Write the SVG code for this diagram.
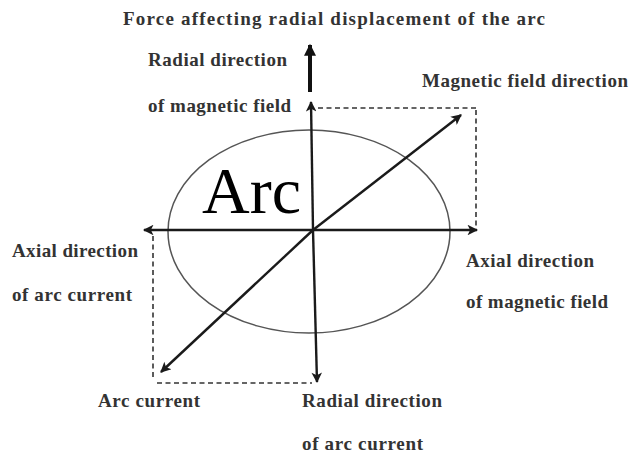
<svg xmlns="http://www.w3.org/2000/svg" width="630" height="459" viewBox="0 0 630 459">
<style>
text{font-family:"Liberation Serif","Times New Roman",serif;fill:#333}
.lb{font-size:19px;font-weight:bold}
.ln{stroke:#1a1a1a;stroke-width:2.4;fill:none}
.ds{stroke:#333;stroke-width:1.6;stroke-dasharray:5 3.5;fill:none}
</style>
<defs>
<marker id="ah" viewBox="0 0 10 10" refX="9" refY="5" markerWidth="5" markerHeight="4.4" orient="auto" markerUnits="strokeWidth">
<path d="M0,0 L10,5 L0,10 L2.5,5 Z" fill="#1a1a1a"/>
</marker>
<marker id="ahb" viewBox="0 0 10 10" refX="9" refY="5" markerWidth="3.4" markerHeight="3" orient="auto" markerUnits="strokeWidth">
<path d="M0,0 L10,5 L0,10 Z" fill="#111"/>
</marker>
</defs>
<rect width="630" height="459" fill="#fff"/>
<g id="arc">
<ellipse cx="309" cy="231.5" rx="141" ry="101.5" fill="none" stroke="#555" stroke-width="1.5"/>
<text x="202" y="213" font-size="66" style="fill:#000">Arc</text>
</g>
<g id="connectors">
<line class="ds" x1="318" y1="108" x2="476" y2="108"/>
<line class="ds" x1="476" y1="110" x2="476" y2="226"/>
<line class="ds" x1="153" y1="236" x2="153" y2="377"/>
<line class="ds" x1="157" y1="383" x2="312" y2="383"/>
<line class="ln" x1="313" y1="230" x2="311" y2="102" marker-end="url(#ah)"/>
<line class="ln" x1="313" y1="230" x2="317" y2="382" marker-end="url(#ah)"/>
<line class="ln" x1="313" y1="230" x2="477" y2="230" marker-end="url(#ah)"/>
<line class="ln" x1="313" y1="230" x2="144" y2="230" marker-end="url(#ah)"/>
<line class="ln" x1="313" y1="230" x2="461" y2="115" marker-end="url(#ah)"/>
<line class="ln" x1="313" y1="230" x2="161" y2="372" marker-end="url(#ah)"/>
<line x1="310" y1="92" x2="310" y2="45" stroke="#111" stroke-width="4" marker-end="url(#ahb)"/>
</g>
<g id="labels">
<text class="lb" x="123" y="25" textLength="422">Force affecting radial displacement of the arc</text>
<text class="lb" x="148" y="66" textLength="139">Radial direction</text>
<text class="lb" x="148" y="112" textLength="143">of magnetic field</text>
<text class="lb" x="422" y="87" textLength="206">Magnetic field direction</text>
<text class="lb" x="12" y="257" textLength="126">Axial direction</text>
<text class="lb" x="12" y="301" textLength="120">of arc current</text>
<text class="lb" x="466" y="267" textLength="128">Axial direction</text>
<text class="lb" x="466" y="308" textLength="142">of magnetic field</text>
<text class="lb" x="98" y="407" textLength="102">Arc current</text>
<text class="lb" x="302" y="407" textLength="140">Radial direction</text>
<text class="lb" x="302" y="450" textLength="121">of arc current</text>
</g>
</svg>
